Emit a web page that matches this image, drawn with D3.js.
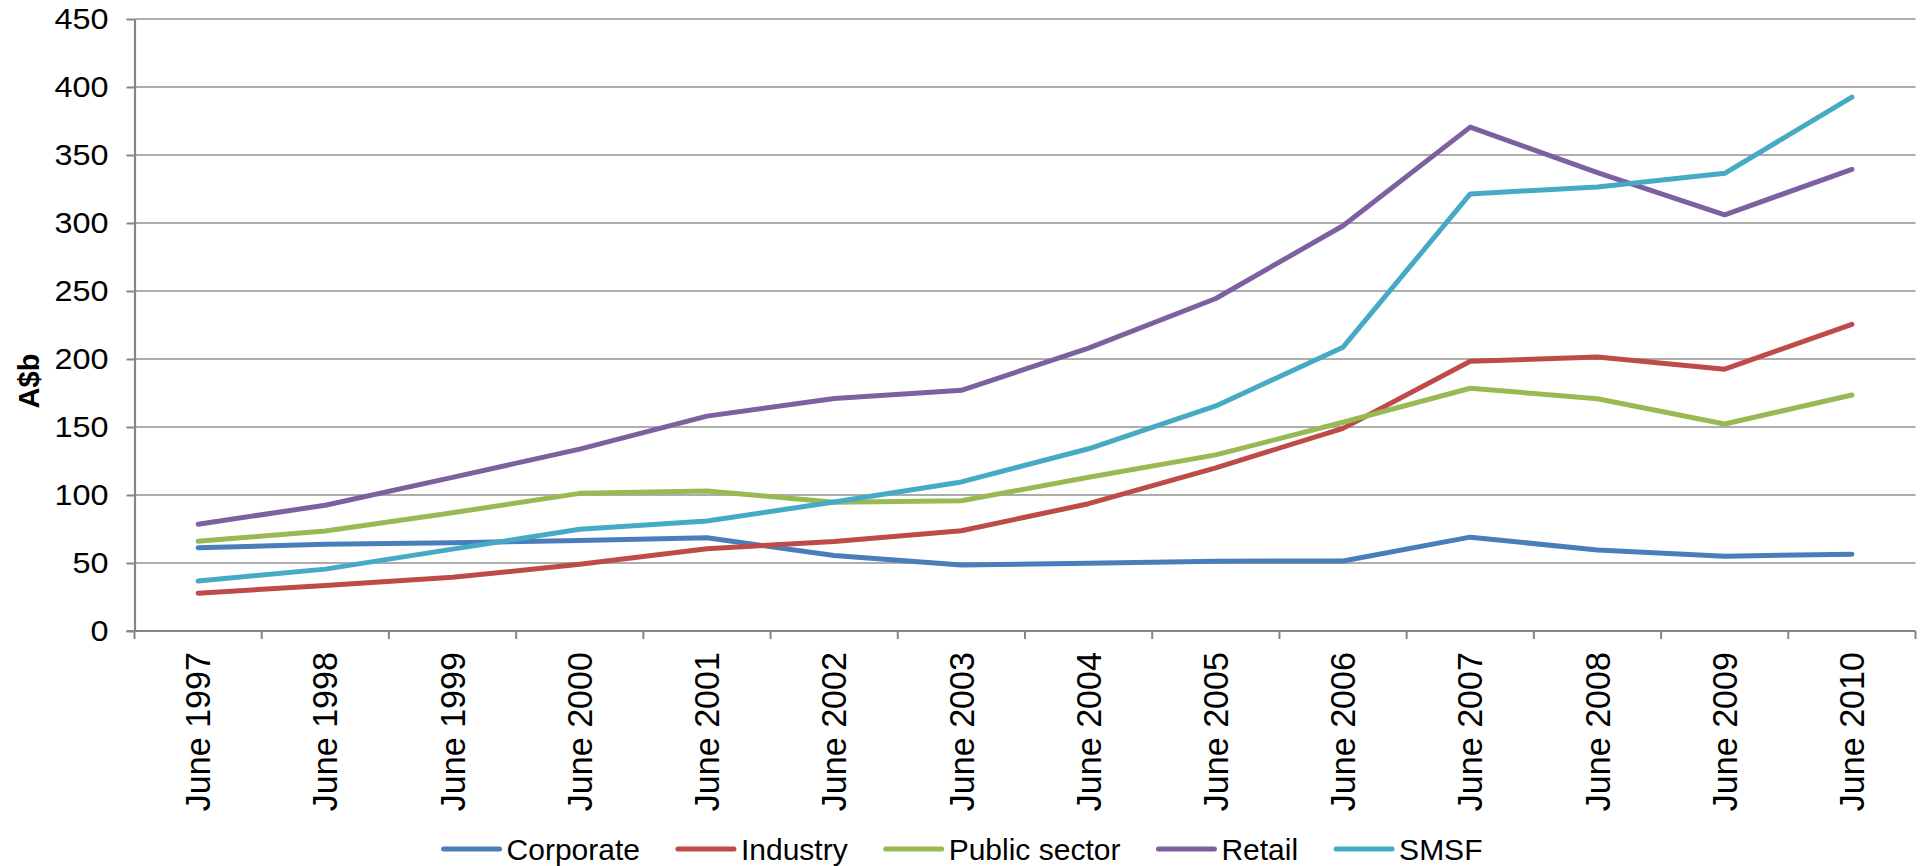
<!DOCTYPE html>
<html>
<head>
<meta charset="utf-8">
<script src="https://cdn.jsdelivr.net/npm/d3@7"></script>
<style>
  html, body { margin: 0; padding: 0; background: #fff; }
  svg { display: block; font-family: "Liberation Sans", Arial, sans-serif; }
</style>
</head>
<body>
<svg id="chart" width="1923" height="866"></svg>
<script>
// Funds under management by fund type, A$ billion
const categories = ["June 1997", "June 1998", "June 1999", "June 2000", "June 2001", "June 2002", "June 2003",
                    "June 2004", "June 2005", "June 2006", "June 2007", "June 2008", "June 2009", "June 2010"];
const corporate    = [61.2, 63.8, 64.8, 66.6, 68.5, 55.5, 48.5, 49.8, 51.3, 51.5, 69.0, 59.5, 55.0, 56.5];
const industry     = [27.8, 33.5, 39.5, 49.0, 60.5, 65.8, 73.7, 93.6, 120.0, 149.0, 198.3, 201.5, 192.5, 225.5];
const publicSector = [66.0, 73.5, 87.0, 101.2, 103.0, 94.6, 95.8, 113.0, 129.5, 153.5, 178.5, 170.8, 152.2, 173.5];
const retail       = [78.5, 92.5, 113.0, 133.7, 158.0, 171.0, 177.0, 208.0, 244.5, 298.0, 370.5, 337.0, 306.0, 339.5];
const smsf         = [36.8, 45.5, 60.2, 74.8, 80.9, 94.8, 109.6, 134.0, 165.5, 208.7, 321.4, 326.5, 336.5, 392.5];
const seriesNames  = ["Corporate", "Industry", "Public sector", "Retail", "SMSF"];
const seriesColors = ["#4A7EBB", "#BE4B48", "#98B954", "#7D60A0", "#46AAC5"];
const yTicks = [0, 50, 100, 150, 200, 250, 300, 350, 400, 450];
const yTitle = "A$b";

const seriesValues = [corporate, industry, publicSector, retail, smsf];

const svg = d3.select("#chart");
const plotLeft = 134.5, plotRight = 1915.5, plotTop = 19, plotBottom = 631;

const x = d3.scaleBand().domain(categories).range([plotLeft, plotRight]).paddingInner(0).paddingOuter(0);
const y = d3.scaleLinear().domain([0, 450]).range([plotBottom, plotTop]);
const cx = c => x(c) + x.bandwidth() / 2;

// horizontal gridlines
svg.append("g")
  .selectAll("line")
  .data(yTicks.filter(v => v > 0))
  .join("line")
  .attr("x1", plotLeft).attr("x2", plotRight)
  .attr("y1", d => y(d)).attr("y2", d => y(d))
  .attr("stroke", "#929292").attr("stroke-width", 1.5);

// y axis
const yAxis = d3.axisLeft(y).tickValues(yTicks).tickSize(8).tickPadding(18).tickSizeOuter(0);
const gy = svg.append("g").attr("transform", `translate(${plotLeft},0)`).call(yAxis);
gy.select(".domain").attr("stroke", "#868686").attr("stroke-width", 2.2);
gy.selectAll(".tick line").attr("stroke", "#868686").attr("stroke-width", 2);
gy.selectAll(".tick text")
  .attr("x", 0)
  .attr("transform", "translate(-26,0) scale(1.08,1)")
  .attr("font-size", 30).attr("fill", "#000")
  .attr("font-family", "'Liberation Sans', Arial, sans-serif");

// x axis line and boundary ticks
svg.append("line")
  .attr("x1", plotLeft - 8).attr("x2", plotRight)
  .attr("y1", plotBottom).attr("y2", plotBottom)
  .attr("stroke", "#868686").attr("stroke-width", 2.2);
const boundaries = categories.map(c => x(c)).concat([x(categories[categories.length - 1]) + x.bandwidth()]);
svg.append("g")
  .selectAll("line")
  .data(boundaries)
  .join("line")
  .attr("x1", d => d).attr("x2", d => d)
  .attr("y1", plotBottom).attr("y2", plotBottom + 8)
  .attr("stroke", "#868686").attr("stroke-width", 2);

// rotated category labels
svg.append("g")
  .selectAll("text")
  .data(categories)
  .join("text")
  .attr("transform", d => `translate(${cx(d)},652) rotate(-90) scale(1.1,1.12)`)
  .attr("text-anchor", "end")
  .attr("dy", "0.35em")
  .attr("font-size", 31)
  .attr("fill", "#000")
  .text(d => d);

// y axis title
svg.append("text")
  .attr("transform", "translate(28.5,381) rotate(-90)")
  .attr("text-anchor", "middle")
  .attr("dy", "0.35em")
  .attr("font-size", 29)
  .attr("font-weight", "bold")
  .attr("fill", "#000")
  .text(yTitle);

// series lines
const line = d3.line()
  .x((d, i) => cx(categories[i]))
  .y(d => y(d));

svg.append("g")
  .selectAll("path")
  .data(seriesValues)
  .join("path")
  .attr("d", d => line(d))
  .attr("fill", "none")
  .attr("stroke", (d, i) => seriesColors[i])
  .attr("stroke-width", 5)
  .attr("stroke-linejoin", "round")
  .attr("stroke-linecap", "round");

// legend
const legend = svg.append("g");
const legendY = 849;
let offset = 0;
seriesNames.forEach((name, i) => {
  const item = legend.append("g").attr("transform", `translate(${offset},0)`);
  item.append("line")
    .attr("x1", 0).attr("x2", 56)
    .attr("y1", legendY).attr("y2", legendY)
    .attr("stroke", seriesColors[i]).attr("stroke-width", 5)
    .attr("stroke-linecap", "round");
  const t = item.append("text")
    .attr("x", 63).attr("y", legendY)
    .attr("dy", "0.35em")
    .attr("font-size", 30)
    .attr("fill", "#000")
    .text(name);
  offset += 63 + t.node().getComputedTextLength() + 38;
});
const legendWidth = offset - 38;
legend.attr("transform", `translate(${963 - legendWidth / 2},0)`);
</script>
</body>
</html>
